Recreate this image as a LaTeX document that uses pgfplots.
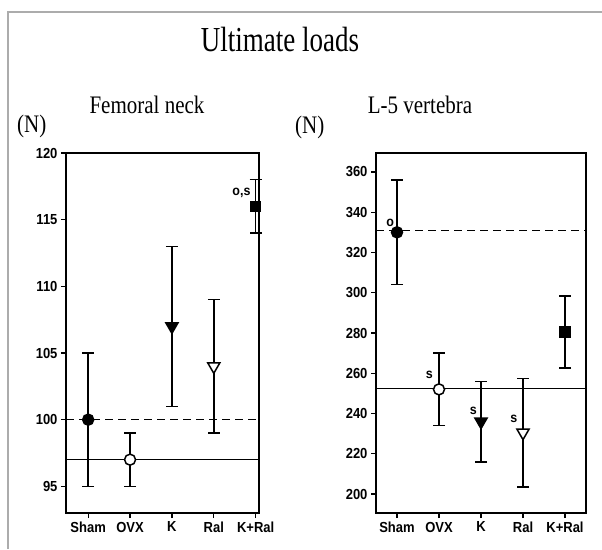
\documentclass[border=0pt]{standalone}
\usepackage{fontspec}
\setmainfont{Liberation Serif}
\newfontfamily\sansf{Liberation Sans}
\usepackage{pgfplots}
\pgfplotsset{compat=1.18}

\pgfplotsset{
 panel/.style={
  scale only axis, anchor=south west,
  height=360pt,
  axis line style={line width=1.5pt},
  tick pos=left, tick align=outside, major tick length=5pt,
  tick style={line width=1.3pt,black},
  xtick={0,1,2,3,4},
  xticklabels={Sham,OVX,K,Ral,K+Ral},
  tick label style={font=\sansf\bfseries\fontsize{13}{15}\selectfont, yscale=1.12},
  /pgf/number format/assume math mode=true,
  clip=false,
 },
 ebar/.style={black, line width=1.5pt,
  error bars/y dir=both, error bars/y explicit,
  error bars/error bar style={line width=1.5pt},
  error bars/error mark options={rotate=90, line width=1.5pt, mark size=6pt}},
}
\tikzset{lab/.style={font=\sansf\bfseries\fontsize{12.5}{14}\selectfont, yscale=1.1},
 ttl/.style={font=\fontsize{21}{24}\selectfont, yscale=1.2}}

\begin{document}
\begin{tikzpicture}
\useasboundingbox (0,0) rectangle (602pt,549pt);
\draw[gray!65, line width=2pt] (7.5pt,0) -- (7.5pt,537pt) -- (602pt,537pt);

\node[anchor=base, font=\fontsize{27}{30}\selectfont, yscale=1.3] at (280pt,497.5pt) {Ultimate loads};
\node[ttl, anchor=base] at (147pt,435pt) {Femoral neck};
\node[ttl, anchor=base] at (420pt,435pt) {L-5 vertebra};
\node[ttl, anchor=base west, inner sep=0pt] at (17pt,416pt) {(N)};
\node[ttl, anchor=base west, inner sep=0pt] at (295pt,415pt) {(N)};

% femoral neck
\begin{axis}[panel, at={(66pt,36pt)}, width=193pt,
 xmin=-0.53, xmax=4.08, ymin=93, ymax=120,
 ytick={95,100,...,120}]
\addplot[black, line width=1.2pt, dash pattern=on 8pt off 5pt] coordinates {(-0.53,100) (4.08,100)};
\addplot[black, line width=1.2pt] coordinates {(-0.53,97) (4.08,97)};
\addplot[ebar, mark=*, mark size=5.5pt] coordinates {(0,100) +- (0,5)};
\addplot[ebar, mark=*, mark size=5.5pt, mark options={fill=white}] coordinates {(1,97) +- (0,2)};
\addplot[ebar, mark=triangle*, mark size=7pt, mark options={rotate=180, fill=black}] coordinates {(2,107) +- (0,6)};
\addplot[ebar, mark=triangle*, mark size=7pt, mark options={rotate=180, fill=white}] coordinates {(3,104) +- (0,5)};
\addplot[ebar, mark=square*, mark size=4.8pt] coordinates {(4,116) +- (0,2)};
\node[lab] at (axis cs:3.66,117.0) {o,s};
\end{axis}

% L-5 vertebra
\begin{axis}[panel, at={(376pt,36pt)}, width=210pt,
 xmin=-0.5, xmax=4.5, ymin=190.6, ymax=369.4,
 ytick={200,220,...,360}]
\addplot[black, line width=1.2pt, dash pattern=on 8pt off 5pt] coordinates {(-0.5,331) (4.5,331)};
\addplot[black, line width=1.2pt] coordinates {(-0.5,252.5) (4.5,252.5)};
\addplot[ebar, mark=*, mark size=5.5pt] coordinates {(0,330) +- (0,26)};
\addplot[ebar, mark=*, mark size=5.5pt, mark options={fill=white}] coordinates {(1,252) +- (0,18)};
\addplot[ebar, mark=triangle*, mark size=7pt, mark options={rotate=180, fill=black}] coordinates {(2,236) +- (0,20)};
\addplot[ebar, mark=triangle*, mark size=7pt, mark options={rotate=180, fill=white}] coordinates {(3,230.5) +- (0,27)};
\addplot[ebar, mark=square*, mark size=4.8pt] coordinates {(4,280.5) +- (0,18)};
\node[lab] at (axis cs:-0.16,334.5) {o};
\node[lab] at (axis cs:0.77,259.4) {s};
\node[lab] at (axis cs:1.82,241.4) {s};
\node[lab] at (axis cs:2.78,237.3) {s};
\end{axis}
\end{tikzpicture}
\end{document}
